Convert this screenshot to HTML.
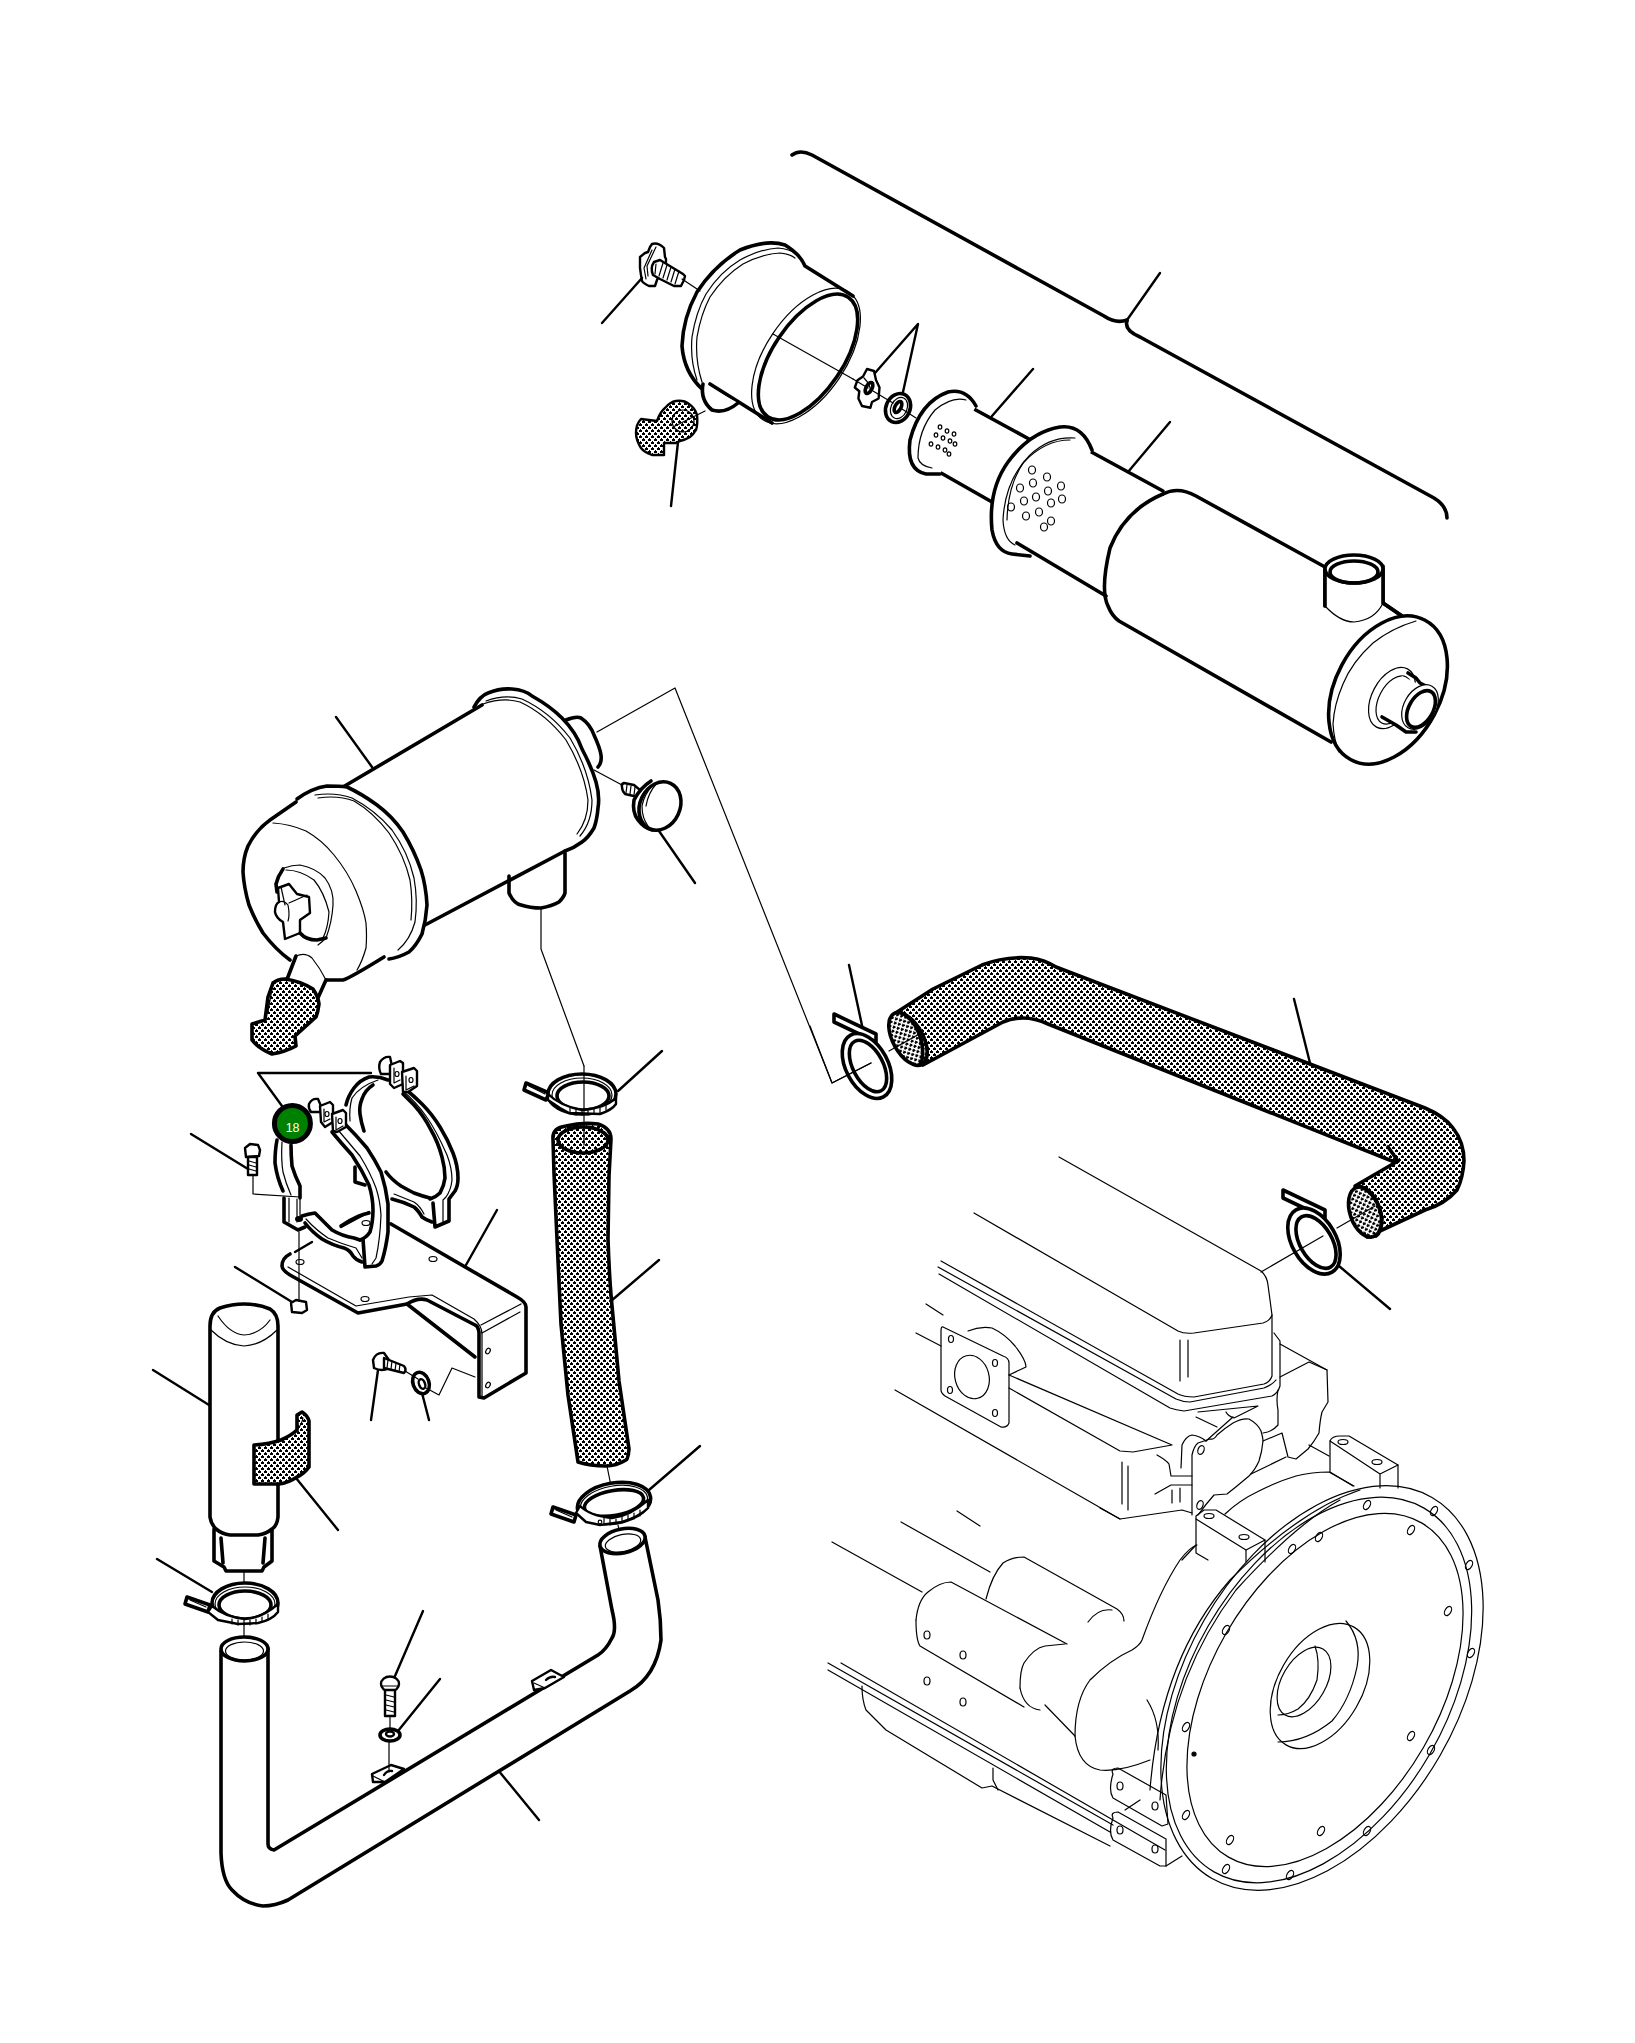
<!DOCTYPE html>
<html><head><meta charset="utf-8"><style>
html,body{margin:0;padding:0;background:#fff;width:1635px;height:2043px;overflow:hidden}
svg{display:block}
.k{stroke:#000;stroke-width:3.6;fill:none;stroke-linecap:round;stroke-linejoin:round}
.m{stroke:#000;stroke-width:2.4;fill:none;stroke-linecap:round;stroke-linejoin:round}
.t{stroke:#000;stroke-width:1.2;fill:none;stroke-linecap:round;stroke-linejoin:round}
.w{fill:#fff}
.s{fill:url(#dots)}
</style></head><body>
<svg width="1635" height="2043" viewBox="0 0 1635 2043">
<defs>
<pattern id="dots" width="6" height="6" patternUnits="userSpaceOnUse">
<rect width="6" height="6" fill="#fff"/>
<path d="M1 0h1v1h1v2h-3v-2h1z M4 3h1v1h1v2h-3v-2h1z" fill="#000" shape-rendering="crispEdges"/>
</pattern>
</defs>
<!-- ===== TOP MUFFLER ===== -->
<g id="muffler">
<path class="k" d="M792,155 Q800,149 812,155 L1104,316 Q1116,324 1127,320"/>
<path class="m" d="M1127,320 L1160,273"/>
<path class="k" d="M1127,321 Q1124,330 1140,337 L1434,498 Q1447,506 1447,518"/>

<!-- cup -->
<g>
<path class="w" d="M702,389 Q684,372 682,346 Q684,318 697,292 Q716,268 740,250 Q767,240 785,245 Q800,254 805,266 L853,296 Q860,310 859,326 Q856,360 838,393 Q815,418 793,423 L772,423 L710,384 Z"/>
<path class="k" d="M702,389 Q684,372 682,346 Q683,318 697,292 Q714,266 740,250 Q767,239 785,245 Q800,254 805,266 L853,296"/>
<path class="t" d="M697,380 Q690,360 692,337 Q696,312 706,294 Q720,272 740,260 Q760,249 778,248 Q790,249 796,254"/>
<path class="t" d="M702,382 Q695,360 697,337 Q701,314 710,297 Q724,276 743,264 Q762,254 780,253 Q790,254 795,258"/>
<path class="k" d="M772,423 L710,384"/>
<path class="k w" d="M703,384 Q700,400 712,410 Q725,414 738,403"/>
<ellipse class="t" cx="806" cy="356" rx="40" ry="77" transform="rotate(34 806 356)"/>
<ellipse class="k" cx="808" cy="357" rx="35" ry="72" transform="rotate(34 808 357)"/>
<path class="t" d="M773,334 L853,379"/>
</g>
<!-- wing screw top-left -->
<g>
<path class="m w" d="M652,244 Q658,242 664,248 L665,257 L666,259 L666,262 L657,280 L655,286 L649,286 Q643,283 642,281 L641,275 L640,268 L640,257 L645,253 L648,252 L650,247 Z"/>
<path class="t" d="M656,247 L647,266 L648,276 M652,250 L644,268 L646,279"/>
<path class="m w" d="M654,262 L660,260 L683,274 L685,276 L684,280 L681,286 L674,286 L660,279 L653,275 Q650,268 654,262 Z"/>
<path class="t" d="M663,263 L659,276 M667,265 L663,278 M671,267 L667,280 M675,269 L671,282 M679,271 L675,284 M656,264 L655,274"/>
<path class="t" d="M682,279 L700,291"/>
<path class="m" d="M602,323 L642,278"/>
</g>
<!-- drain valve stippled -->
<g>
<path class="m s" d="M641,419 L657,421 Q660,412 665,408 Q670,402 676,401 Q684,400 689,404 Q695,408 697,415 Q698,424 696,430 Q693,435 690,437 Q685,440 680,441 L676,443 L664,443 L664,455 L652,455 Q644,452 641,448 Q636,440 636,433 Q636,424 641,419 Z"/>
<circle class="t" cx="683" cy="421" r="11"/>
<path class="t" d="M673,427 L705,411"/>
<path class="m" d="M678,442 L671,506"/>
</g>
<!-- wing nut + washer -->
<g>
<path class="m w" d="M867,369 L874,371 L876,380 L879.5,387.5 L878.6,398.5 L872,402 L870.4,407.7 L862,406 L858.4,398.5 L859.3,391.2 L854.8,387.5 L857.5,380.2 L863,376.5 Z"/>
<path class="t" d="M864,378 Q870,384 871,392"/>
<ellipse class="k" cx="869" cy="388" rx="3" ry="6" transform="rotate(28 869 388)"/>
<ellipse class="k w" cx="898" cy="408" rx="12" ry="15" transform="rotate(25 898 408)"/>
<ellipse class="t" cx="899" cy="408" rx="8" ry="11" transform="rotate(25 899 408)"/>
<ellipse class="k" cx="898" cy="407" rx="3" ry="6" transform="rotate(28 898 407)"/>
<path class="t" d="M853,379 L868,388 M873,391 L893,403 M902,409 L916,418"/>
<path class="m" d="M875,373 L918,324 L903,392"/>
</g>
<!-- front small tube -->
<g>
<path class="w" d="M956,391 L1029,439 L992,502 L926,474 Z"/>
<path class="k" d="M963,403 L1029,439"/>
<path class="k" d="M927,465 L992,502"/>
<path class="k w" d="M976,406 Q966,388 948,392 Q920,402 910,440 Q906,470 926,474 L940,474"/>
<path class="t" d="M966,400 Q952,396 935,410 Q918,430 918,458 Q920,466 932,468"/>
<g class="t">
<ellipse cx="940" cy="427" rx="1.8" ry="2.2"/><ellipse cx="947" cy="431" rx="1.8" ry="2.2"/><ellipse cx="954" cy="434" rx="1.8" ry="2.2"/>
<ellipse cx="936" cy="435" rx="1.8" ry="2.2"/><ellipse cx="943" cy="438" rx="1.8" ry="2.2"/><ellipse cx="950" cy="441" rx="1.8" ry="2.2"/><ellipse cx="955" cy="444" rx="1.8" ry="2.2"/>
<ellipse cx="931" cy="444" rx="1.8" ry="2.2"/><ellipse cx="938" cy="447" rx="1.8" ry="2.2"/><ellipse cx="945" cy="450" rx="1.8" ry="2.2"/><ellipse cx="949" cy="454" rx="1.8" ry="2.2"/>
</g>
<path class="m" d="M992,416 L1033,369"/>
</g>
<!-- big flange segment -->
<g>
<path class="w" d="M1064,427 L1163,491 L1081,580 L1007,553 Z"/>
<path class="k" d="M1073,442 L1163,491"/>

<path class="k w" d="M1092,450 Q1082,424 1060,427 Q1030,432 1008,462 Q988,490 992,530 Q996,552 1012,554 L1030,556"/>
<path class="t" d="M1075,438 Q1050,436 1030,455 Q1005,480 1003,520 Q1004,540 1015,545"/>
<path class="t" d="M1070,440 Q1045,440 1024,462 Q1008,484 1007,520"/>
<g class="t">
<ellipse cx="1032" cy="470" rx="3.5" ry="4"/><ellipse cx="1047" cy="477" rx="3.5" ry="4"/>
<ellipse cx="1020" cy="488" rx="3.5" ry="4"/><ellipse cx="1033" cy="483" rx="3.5" ry="4"/><ellipse cx="1048" cy="491" rx="3.5" ry="4"/><ellipse cx="1061" cy="486" rx="3.5" ry="4"/>
<ellipse cx="1024" cy="501" rx="3.5" ry="4"/><ellipse cx="1036" cy="497" rx="3.5" ry="4"/><ellipse cx="1051" cy="503" rx="3.5" ry="4"/><ellipse cx="1062" cy="499" rx="3.5" ry="4"/>
<ellipse cx="1011" cy="507" rx="3.5" ry="4"/><ellipse cx="1039" cy="512" rx="3.5" ry="4"/><ellipse cx="1026" cy="516" rx="3.5" ry="4"/><ellipse cx="1051" cy="521" rx="3.5" ry="4"/><ellipse cx="1044" cy="527" rx="3.5" ry="4"/>
</g>
<path class="m" d="M1128,472 L1170,422"/>
</g>
<!-- big body -->
<g>
<path class="w" d="M1163,494 Q1178,486 1196,496 L1402,616 L1400,760 L1331,742 L1119,621 Q1100,600 1110,548 Q1125,510 1163,494 Z"/>
<path class="k" d="M1163,494 Q1178,486 1196,496 L1325,567"/>
<path class="k" d="M1017,543 L1106,596"/>
<path class="k" d="M1163,494 Q1125,510 1110,548 Q1100,590 1108,606 Q1112,616 1119,621 L1331,742"/>
<path class="k w" d="M1325,567 L1325,606 M1383,566 L1383,603 L1402,616"/>
<path class="w" d="M1325,570 L1383,570 L1383,603 Q1354,622 1325,606 Z"/>
<path class="k" d="M1325,570 L1325,606 M1383,570 L1383,603 L1402,616"/>
<path class="t" d="M1325,606 Q1340,622 1354,622 Q1375,620 1383,603"/>
<ellipse class="k w" cx="1354" cy="569" rx="29" ry="14"/>
<ellipse class="k" cx="1354" cy="572" rx="24" ry="11"/>
<ellipse class="k w" cx="1388" cy="690" rx="52.5" ry="79" transform="rotate(28 1388 690)"/>
<path class="t" d="M1416,621 Q1392,628 1373,643 Q1352,662 1343,684 Q1334,705 1333,724 Q1334,740 1339,752"/>
<ellipse class="t" cx="1392" cy="698" rx="20" ry="33" transform="rotate(28 1392 698)"/>
<ellipse class="t" cx="1394" cy="700" rx="15" ry="26" transform="rotate(28 1394 700)"/>
<path class="w" d="M1402,676 L1432,691 L1412,733 L1384,718 Z"/>
<path class="k" d="M1408,673 L1416,678 L1420,683 L1432,689 M1382,717 L1396,725 L1406,732 L1416,732"/>
<ellipse class="t w" cx="1420" cy="707" rx="16" ry="24" transform="rotate(30 1420 707)"/>
<ellipse class="k" cx="1421" cy="709" rx="12" ry="20" transform="rotate(30 1421 709)"/>
</g>
</g>


<!-- ===== ENGINE ===== -->
<g id="engine" class="t">
<!-- valve cover -->
<path d="M1059,1157 L1261,1271 Q1267,1276 1268,1285 L1272,1315 L1272,1376 Q1270,1382 1264,1384 L1194,1397 Q1184,1397 1178,1394 L941,1261"/>
<path d="M1272,1315 Q1270,1321 1263,1323 L1194,1333 Q1184,1334 1178,1331 L974,1213"/>
<path d="M1180,1340 L1180,1381 M1188,1340 L1188,1377"/>
<path d="M1274,1333 L1280,1341 L1280,1386 Q1278,1393 1272,1396 L1184,1411 Q1176,1410 1170,1408 L939,1274"/>
<path d="M938,1267 L1176,1399 Q1183,1402 1190,1402 L1264,1388 Q1272,1385 1276,1380"/>
<!-- head -->
<path d="M1280,1344 L1327,1370 L1328,1402 L1322,1412 Q1320,1420 1319,1433 Q1314,1442 1308,1449 L1296,1459 L1288,1457 L1282,1433 L1263,1441"/>
<path d="M1280,1377 L1309,1362 L1327,1370"/>
<path d="M1278,1390 Q1276,1400 1278,1410 L1278,1425 Q1272,1432 1263,1433"/>
<path d="M1251,1474 L1286,1457 M1309,1445 L1329,1456"/>
<path d="M895,1390 L1120,1519"/>
<path d="M1009,1375 L1172,1445 L1133,1452 L1120,1451 L1009,1388"/>
<path d="M1100,1508 L1120,1519 L1182,1510 L1192,1513"/>
<path d="M1122,1462 L1122,1504 M1128,1466 L1128,1510"/>
<path d="M1157,1455 Q1166,1460 1169,1464 L1171,1476 L1192,1476 M1155,1494 L1171,1485 L1192,1485 M1172,1490 L1172,1503 M1180,1488 L1180,1502"/>
<path d="M1196,1417 L1217,1427 M1198,1412 L1258,1406 L1234,1418 Q1228,1416 1226,1412"/>
<!-- thermostat housing -->
<path d="M1192,1515 L1192,1455 Q1194,1446 1198,1443 L1210,1439 Q1214,1440 1217,1435 Q1225,1428 1233,1423 Q1242,1418 1249,1419 Q1258,1424 1261,1431 Q1263,1438 1263,1441 Q1262,1452 1259,1461 Q1255,1470 1249,1476 Q1243,1481 1237,1486 L1227,1494 L1214,1495 Q1206,1504 1198,1515"/>
<path d="M1181,1468 L1182,1445 Q1186,1436 1192,1435 Q1200,1436 1206,1441"/>
<ellipse cx="1201" cy="1450" rx="3" ry="4.5" transform="rotate(20 1201 1450)"/><ellipse cx="1200" cy="1505" rx="3" ry="4.5" transform="rotate(20 1200 1505)"/>
<path d="M1206,1441 L1233,1417"/>
<!-- top-right pad -->
<path d="M1330,1441 Q1332,1436 1340,1436 L1349,1436 L1398,1465 L1398,1488"/>
<path d="M1330,1441 L1330,1472 L1353,1486 M1330,1441 L1380,1474 L1398,1465 M1380,1474 L1380,1488"/>
<ellipse cx="1343" cy="1442" rx="5" ry="2.5"/><ellipse cx="1377" cy="1462" rx="5" ry="2.5"/>
<!-- lower pad -->
<path d="M1196,1516 L1204,1510 L1216,1510 L1265,1540 L1246,1550 L1196,1519 Z"/>
<path d="M1246,1550 L1246,1562 M1265,1540 L1265,1562 M1196,1519 L1196,1553 L1208,1560"/>
<ellipse cx="1209" cy="1516" rx="5" ry="2.5"/><ellipse cx="1244" cy="1537" rx="5" ry="2.5"/>
<path d="M1225,1514 Q1240,1500 1257,1492 Q1276,1482 1296,1476 Q1312,1472 1329,1472 L1354,1486"/>
<path d="M1182,1560 L1196,1545"/>
<!-- exhaust flange -->
<path d="M943,1327 L1003,1356 Q1009,1358 1009,1363 L1009,1423 Q1007,1428 1001,1427 L945,1396 Q941,1393 941,1390 L941,1331 Q941,1326 943,1327 Z"/>
<path d="M968,1331 Q980,1326 992,1328 Q1005,1334 1015,1346 Q1026,1360 1026,1367 L1009,1375"/>
<ellipse cx="972" cy="1377" rx="17" ry="22" transform="rotate(-15 972 1377)"/>
<ellipse cx="951" cy="1339" rx="2.5" ry="3.5"/><ellipse cx="995" cy="1363" rx="2.5" ry="3.5"/>
<ellipse cx="950" cy="1390" rx="2.5" ry="3.5"/><ellipse cx="995" cy="1413" rx="2.5" ry="3.5"/>
<path d="M926,1304 L943,1315 M916,1333 L941,1346"/>
<!-- flywheel housing -->
<ellipse cx="1322" cy="1688" rx="136" ry="220" transform="rotate(30 1322 1688)"/>
<ellipse cx="1319" cy="1690" rx="128" ry="210" transform="rotate(30 1319 1690)"/>
<ellipse cx="1325" cy="1690" rx="114" ry="193" transform="rotate(30 1325 1690)"/>
<path d="M1150,1790 Q1160,1660 1230,1580 Q1300,1510 1360,1490"/>
<path d="M1160,1800 Q1168,1680 1236,1590 Q1296,1524 1340,1500"/>
<ellipse cx="1320" cy="1686" rx="42" ry="68" transform="rotate(30 1320 1686)"/>
<path d="M1346,1621 Q1362,1640 1357,1667 Q1350,1700 1332,1721 Q1306,1742 1278,1742"/>
<ellipse cx="1304" cy="1682" rx="22" ry="38" transform="rotate(30 1304 1682)"/>
<path d="M1315,1646 Q1320,1660 1317,1680 Q1310,1700 1298,1709 Q1288,1715 1278,1715"/>
<g>
<ellipse cx="1367" cy="1505" rx="3" ry="5" transform="rotate(30 1367 1505)"/>
<ellipse cx="1434" cy="1511" rx="3" ry="5" transform="rotate(30 1434 1511)"/>
<ellipse cx="1469" cy="1565" rx="3" ry="5" transform="rotate(30 1469 1565)"/>
<ellipse cx="1471" cy="1653" rx="3" ry="5" transform="rotate(30 1471 1653)"/>
<ellipse cx="1431" cy="1750" rx="3" ry="5" transform="rotate(30 1431 1750)"/>
<ellipse cx="1367" cy="1831" rx="3" ry="5" transform="rotate(30 1367 1831)"/>
<ellipse cx="1290" cy="1875" rx="3" ry="5" transform="rotate(30 1290 1875)"/>
<ellipse cx="1226" cy="1869" rx="3" ry="5" transform="rotate(30 1226 1869)"/>
<ellipse cx="1186" cy="1815" rx="3" ry="5" transform="rotate(30 1186 1815)"/>
<ellipse cx="1186" cy="1727" rx="3" ry="5" transform="rotate(30 1186 1727)"/>
<ellipse cx="1226" cy="1630" rx="3" ry="5" transform="rotate(30 1226 1630)"/>
<ellipse cx="1292" cy="1549" rx="3" ry="5" transform="rotate(30 1292 1549)"/>
<ellipse cx="1411" cy="1530" rx="3" ry="5" transform="rotate(30 1411 1530)"/>
<ellipse cx="1448" cy="1611" rx="3" ry="5" transform="rotate(30 1448 1611)"/>
<ellipse cx="1411" cy="1736" rx="3" ry="5" transform="rotate(30 1411 1736)"/>
<ellipse cx="1321" cy="1831" rx="3" ry="5" transform="rotate(30 1321 1831)"/>
<ellipse cx="1230" cy="1840" rx="3" ry="5" transform="rotate(30 1230 1840)"/>
<ellipse cx="1319" cy="1537" rx="3" ry="5" transform="rotate(30 1319 1537)"/>
</g>
<circle cx="1194" cy="1754" r="2" fill="#000"/>
<!-- left lines -->
<path d="M832,1542 L922,1592 M901,1522 L990,1572 M957,1511 L980,1526"/>
<!-- starter cylinders -->
<path d="M916,1620 Q918,1600 928,1592 Q940,1582 951,1582 L1067,1644"/>
<path d="M916,1620 Q916,1640 920,1646 L1024,1707"/>
<path d="M986,1599 Q992,1575 1003,1563 Q1012,1557 1024,1557 L1117,1609 Q1124,1614 1124,1621"/>
<path d="M1020,1688 Q1020,1670 1024,1663 Q1034,1648 1045,1646 L1065,1644"/>
<path d="M1020,1688 Q1024,1708 1040,1710"/>
<path d="M1088,1622 Q1098,1608 1112,1610"/>
<path d="M1045,1705 L1075,1736"/>
<ellipse cx="927" cy="1635" rx="3" ry="4"/><ellipse cx="963" cy="1655" rx="3" ry="4"/>
<ellipse cx="927" cy="1681" rx="3" ry="4"/><ellipse cx="963" cy="1702" rx="3" ry="4"/>
<!-- starter nose / bell -->
<path d="M1075,1736 Q1075,1700 1090,1680 Q1110,1660 1132,1650 Q1140,1645 1142,1640 Q1160,1590 1180,1560 Q1190,1547 1197,1545"/>
<path d="M1075,1736 Q1078,1766 1100,1770 Q1120,1772 1150,1760"/>
<path d="M1147,1700 Q1160,1720 1158,1750"/>
<!-- lower body + rails -->
<path d="M862,1686 Q862,1700 866,1710 L886,1730 L982,1788 L992,1786 L1110,1846"/>
<path d="M993,1768 L993,1780 L998,1790"/>
<path d="M828,1663 L1113,1825 M828,1670 L1110,1832 M841,1663 L1165,1850"/>
<!-- lower pads -->
<path d="M1113,1774 Q1110,1768 1118,1768 L1166,1795 L1168,1824 L1162,1826 L1113,1798 Q1108,1790 1113,1774 Z"/>
<ellipse cx="1120" cy="1786" rx="3" ry="4"/><ellipse cx="1155" cy="1806" rx="3" ry="4"/>
<path d="M1113,1818 Q1110,1812 1118,1812 L1166,1839 L1166,1866 L1160,1866 L1113,1840 Q1108,1832 1113,1818 Z"/>
<path d="M1125,1810 L1140,1800 M1166,1866 L1182,1856"/>
<ellipse cx="1120" cy="1830" rx="3" ry="4"/><ellipse cx="1155" cy="1849" rx="3" ry="4"/>
</g>

<!-- ===== BIG RIGHT HOSE ===== -->
<g id="rhose">
<path class="m" d="M849,965 L863,1030"/>
<path class="m" d="M1294,999 L1310,1063"/>
<path class="m" d="M1339,1266 L1390,1309"/>
<path class="k s" d="M894,1014 L933,989 L982,965 Q1005,956 1031,958 Q1045,960 1056,967 L1425,1108 Q1444,1116 1453,1128 Q1464,1142 1464,1161 Q1463,1178 1457,1190 Q1445,1204 1425,1210 L1367,1237 L1355,1186 L1398,1161 L1392,1161 L1048,1024 Q1035,1018 1023,1018 Q1012,1018 1003,1022 L923,1065 Z"/>
<path class="k" d="M1398,1161 L1388,1147"/>
<ellipse class="k s" cx="908" cy="1039" rx="15" ry="29" transform="rotate(-29 908 1039)"/>
<path class="k" d="M902,1013 Q918,1022 922,1044 Q924,1060 920,1064"/>
<ellipse class="k s" cx="1365" cy="1212" rx="15" ry="26" transform="rotate(-19 1365 1212)"/>
<path class="k" d="M1362,1187 Q1378,1196 1382,1218 Q1382,1232 1376,1236"/>
<!-- clamps -->
<path class="k w" d="M834,1014 L876,1034 L876,1042 L834,1022 Z"/>
<ellipse class="k w" cx="867" cy="1066" rx="21" ry="35" transform="rotate(-28 867 1066)"/>
<ellipse class="k w" cx="868" cy="1066" rx="15" ry="28" transform="rotate(-28 868 1066)"/>
<path class="t" d="M810,1026 L832,1083 L871,1063 M889,1051 L921,1033"/>
<path class="k w" d="M1283,1190 L1325,1210 L1325,1218 L1283,1198 Z"/>
<ellipse class="k w" cx="1314" cy="1241" rx="22" ry="36" transform="rotate(-30 1314 1241)"/>
<ellipse class="k w" cx="1316" cy="1242" rx="16" ry="29" transform="rotate(-30 1316 1242)"/>
<path class="t" d="M1261,1272 L1323,1236 M1337,1228 L1375,1206"/>
</g>
<!-- ===== AIR CLEANER ===== -->
<g id="aircleaner">
<path class="t" d="M597,732 L675,688 L832,1083 L871,1063"/>
<path class="t" d="M541,908 L541,949 L584,1066"/>
<path class="m" d="M336,717 L372,767"/>
<path class="m" d="M659,831 L695,883"/>
<!-- body -->
<path class="w" d="M343,787 L482,705 Q510,688 532,696 Q562,718 582,749 Q598,782 598,808 Q596,830 582,842 L565,851 L425,925 Q400,960 343,980 L327,980 Q280,960 258,934 Q240,900 243,870 Q250,840 265,824 L300,800 Z"/>
<path class="k" d="M343,787 L482,705"/>
<!-- back flange -->
<path class="k" d="M474,707 Q480,696 488,693 Q500,688 512,689 Q525,690 532,696 Q550,706 562,718 Q576,732 582,749 Q592,768 596,782 Q600,796 598,808 Q597,820 594,828 Q588,838 582,842 Q574,848 565,851"/>
<path class="t" d="M486,701 Q505,694 522,699 Q550,712 570,738 Q588,768 592,800 Q592,822 580,836"/>
<path class="t" d="M483,704 Q503,697 520,702 Q546,714 566,740 Q584,770 588,800 Q588,820 577,834"/>
<path class="k" d="M566,720 Q576,716 581,718 Q590,724 594,735 Q600,748 601,755 Q602,763 598,767"/>
<!-- outlet tube -->
<path class="w" d="M509,876 L509,893 Q514,904 521,905 Q530,908 541,908 Q552,906 559,902 Q564,897 565,893 L565,853 Z"/>
<path class="k" d="M509,876 L509,893 Q514,904 521,905 Q530,908 541,908 Q552,906 559,902 Q564,897 565,893 L565,853"/>
<path class="k" d="M425,925 L565,851"/>
<!-- front flange -->
<path class="w" d="M343,786 L326,784 L296,802 L270,820 Q255,832 245,855 Q242,872 244,880 Q246,905 263,933 Q275,948 290,960 L326,980 L343,980 L384,957 L397,950 Z"/>

<path class="w" d="M297,799 Q312,788 327,786 Q340,786 347,787 Q362,794 377,805 Q392,816 403,832 Q414,850 421,870 Q426,886 427,905 Q426,920 422,934 Q416,946 409,952 Q398,958 389,959 L384,956 Z"/>
<path class="k" d="M297,799 Q312,788 327,786 Q340,786 347,787 Q362,794 377,805 Q392,816 403,832 Q414,850 421,870 Q426,886 427,905 Q426,920 422,934 Q416,946 409,952 Q398,958 389,959"/>
<path class="t" d="M315,795 Q335,792 352,798 Q375,810 392,830 Q408,852 414,878 Q418,900 415,922 Q410,940 398,950"/>
<path class="t" d="M318,798 Q338,795 354,801 Q373,812 389,833 Q404,855 410,880 Q413,900 411,920"/>
<!-- front cap -->
<path class="k" d="M296,802 L270,820 Q256,830 248,846 Q243,858 243,872 Q244,888 249,905 Q255,920 263,933 Q276,950 290,960"/>
<path class="k" d="M326,980 L343,980 Q350,978 384,957"/>
<path class="t" d="M273,823 Q290,824 306,831 Q322,840 334,855 Q348,872 356,891 Q364,910 366,923 Q367,937 366,948 Q362,962 357,970"/>
<path class="t" d="M284,868 Q292,865 300,865 Q316,868 325,878 Q334,890 333,905 Q332,922 326,938 Q322,942 318,945"/>
<path class="t" d="M286,870 Q300,870 314,880 Q324,892 329,912 Q328,928 323,938"/>
<path class="k" d="M283,869 Q278,876 276,884 L277,892"/>
<path class="m w" d="M278,888 L289,884 L297,894 L309,897 L310,913 L300,920 L300,933 L285,939 L283,922 Q276,918 275,912 Q275,904 279,902 Z"/>
<path class="t" d="M279,902 Q284,900 288,905 Q290,915 288,921 M281,887 L285,905 M289,903 L307,895"/>
<path class="k" d="M300,933 Q306,940 317,940 L326,938"/>
<!-- drain tube + valve -->
<path class="w" d="M296,956 L289,981 L318,998 L326,980 Z"/>
<path class="k" d="M296,956 L286,982 M326,980 L317,1000"/>
<path class="t" d="M296,956 Q305,952 312,958 Q320,968 326,980"/>
<path class="k s" d="M273,983 Q278,979 285,979 Q300,981 313,989 Q318,996 319,1004 Q318,1012 316,1017 L295,1036 L296,1046 Q285,1052 272,1054 Q258,1048 252,1040 L252,1024 L265,1020 L268,997 Z"/>
<path class="t" d="M273,983 L268,1012"/>
<!-- knob (right) -->
<path class="m w" d="M622,787 Q621,784 624,783 L634,785 L640,790 L638,797 L625,794 Q622,791 622,787 Z"/>
<path class="t" d="M627,785 L626,793 M631,786 L630,794 M635,787 L634,795"/>
<path class="t" d="M594,770 L622,785"/>
<path class="k w" d="M651,781 Q640,788 634,800 Q632,812 638,820 Q644,828 652,830 L660,830"/>
<ellipse class="k w" cx="660" cy="806" rx="20" ry="25" transform="rotate(25 660 806)"/>
<path class="t" d="M654,784 Q644,794 642,806 Q642,818 648,826 M657,783 Q648,793 646,806"/>
</g>

<!-- ===== BRACKETS ===== -->
<g id="brackets">
<path class="m" d="M258,1073 L371,1073 M258,1073 L282,1106"/>
<path class="m" d="M191,1134 L248,1169"/>
<path class="m" d="M235,1267 L292,1302"/>
<path class="m" d="M466,1265 L497,1210"/>
<!-- base plate -->
<path class="k w" d="M391,1224 L517,1297 Q526,1302 526,1307 L526,1373 L484,1398 L479,1397 L479,1332 Q478,1326 475,1325 L427,1300 Q418,1297 407,1304 L358,1313 L290,1275 Q282,1270 282,1266 Q282,1258 290,1254"/>
<path class="t" d="M288,1267 L356,1306 L409,1297 L432,1295 L474,1319 Q482,1326 482,1334 L482,1396"/>
<path class="k" d="M407,1304 L475,1357"/>
<path class="t" d="M481,1325 L521,1304 M482,1333 L520,1312"/>
<path class="m" d="M295,1252 L312,1242 M341,1227 L369,1212"/>
<ellipse class="t" cx="300" cy="1262" rx="4" ry="2.5"/>
<ellipse class="t" cx="365" cy="1299" rx="4" ry="2.5"/>
<ellipse class="t" cx="433" cy="1259" rx="4" ry="2.5"/>
<ellipse class="t" cx="366" cy="1223" rx="4" ry="2.5"/>
<ellipse class="t" cx="488" cy="1351" rx="2" ry="3" transform="rotate(30 488 1351)"/>
<ellipse class="t" cx="488" cy="1385" rx="2" ry="3" transform="rotate(30 488 1385)"/>
<!-- ring 1 (back) -->
<path class="k" d="M404,1088 Q414,1096 422,1104 Q432,1114 440,1127 Q448,1140 453,1153 Q458,1166 458,1178 Q458,1186 455,1191 L449,1199 L449,1221 L435,1227 L433,1203"/>
<path class="k" d="M403,1094 Q408,1099 414,1105 Q424,1116 431,1130 Q438,1142 442,1157 Q445,1168 445,1178 Q444,1186 440,1193 Q436,1197 430,1199"/>
<path class="t" d="M403,1091 Q416,1102 426,1116 Q436,1130 447,1155 Q452,1168 452,1180 Q451,1190 446,1197 L443,1200 L443,1223"/>
<path class="k" d="M386,1172 Q392,1180 401,1186 Q408,1190 414,1193 Q422,1196 430,1198"/>
<path class="k" d="M392,1199 Q404,1202 414,1207 Q418,1210 422,1217 Q426,1220 432,1222"/>
<path class="t" d="M394,1194 Q404,1198 414,1202 Q420,1206 424,1214"/>
<path class="k" d="M388,1080 Q378,1076 369,1077 Q360,1080 354,1088 Q348,1096 346,1105"/>
<path class="k" d="M373,1085 Q365,1090 362,1099 Q359,1106 360,1114 Q361,1122 364,1131"/>
<path class="t" d="M378,1080 Q360,1086 352,1098 Q349,1108 350,1121"/>
<path class="m w" d="M380,1062 Q384,1056 390,1057 L392,1066 L390,1074 L381,1074 Q378,1068 380,1062 Z"/>
<path class="m w" d="M390,1065 L400,1061 L403,1063 L403,1084 L394,1088 L390,1084 Z"/>
<path class="t" d="M394,1068 L394,1083 L400,1080"/>
<path class="m w" d="M402,1072 L414,1068 L417,1071 L417,1086 L408,1092 L403,1092 Z"/>
<path class="t" d="M406,1076 L406,1090 L414,1086"/>
<ellipse class="t" cx="397" cy="1074" rx="2" ry="2.5"/><ellipse class="t" cx="411" cy="1080" rx="2" ry="2.5"/>
<!-- ring 2 (front) -->
<path class="w" d="M345,1124 Q356,1135 367,1148 Q375,1160 381,1172 Q386,1188 388,1204 L388,1232 Q386,1248 382,1261 L376,1266 L365,1267 L363,1239 L352,1238 L332,1230 L315,1213 L302,1216 L299,1198 L284,1198 L284,1222 Q278,1200 276,1180 L277,1140 L291,1145 L292,1166 L300,1186 L300,1198 L315,1213 L332,1230 L354,1238 L360,1240 Q368,1236 370,1232 L373,1210 L369,1185 L352,1155 L332,1132 Z"/>
<path class="k" d="M345,1124 Q356,1135 367,1148 Q375,1160 381,1172 Q386,1188 388,1204 L388,1232 Q386,1248 382,1261 Q380,1265 376,1266 L365,1267 L363,1239"/>
<path class="k" d="M332,1132 Q342,1144 352,1155 Q362,1170 369,1185 Q373,1198 373,1210 Q373,1222 370,1232 Q366,1238 360,1240"/>
<path class="t" d="M338,1130 Q350,1144 360,1156 Q370,1172 376,1188 Q380,1200 381,1215 Q380,1240 376,1258 L372,1264"/>
<path class="k" d="M277,1140 Q275,1150 275,1163 Q277,1178 283,1191"/>
<path class="k" d="M291,1145 Q291,1155 292,1166 Q295,1176 300,1186 L300,1198"/>
<path class="t" d="M282,1142 Q281,1160 283,1172 Q286,1184 291,1195"/>
<path class="k" d="M284,1198 L284,1222 L298,1230 L305,1227"/>
<path class="t" d="M289,1198 L289,1222 M297,1199 L297,1222"/>
<path class="k" d="M305,1223 Q312,1232 322,1239 Q332,1245 344,1248 Q350,1250 353,1256 Q356,1260 362,1262"/>
<path class="k" d="M302,1216 Q308,1214 315,1213 Q322,1220 332,1230 Q342,1236 354,1238 L360,1240"/>
<path class="t" d="M306,1219 Q316,1230 328,1238 Q342,1244 356,1248 L362,1258"/>
<path class="k" d="M341,1226 Q350,1220 359,1216 Q364,1214 369,1213"/>
<path class="k" d="M355,1167 L355,1182 L365,1185"/>
<path class="m w" d="M309,1104 Q312,1098 318,1099 L321,1106 L320,1112 L311,1112 Q308,1108 309,1104 Z"/>
<path class="m w" d="M320,1106 L330,1102 L333,1105 L333,1122 L325,1127 L321,1122 Z"/>
<path class="t" d="M324,1109 L324,1122 L330,1119"/>
<path class="m w" d="M332,1114 L343,1110 L346,1113 L346,1127 L337,1132 L333,1131 Z"/>
<path class="t" d="M336,1117 L336,1130 L343,1126"/>
<ellipse class="t" cx="327" cy="1114" rx="2" ry="2.5"/><ellipse class="t" cx="340" cy="1121" rx="2" ry="2.5"/>
<ellipse cx="299" cy="1219" rx="4" ry="3" fill="#000"/>
<!-- label 18 -->
<circle cx="292.4" cy="1123.5" r="18" fill="#008000" stroke="#000" stroke-width="5"/>
<text x="292.6" y="1132" font-family="Liberation Sans, sans-serif" font-size="12.5" fill="#fff" text-anchor="middle">18</text>
<!-- bolt left -->
<path class="m w" d="M245,1148 L250,1144 L258,1145 L260,1150 L259,1156 L246,1157 Z"/>
<path class="m w" d="M248,1157 L257,1157 L257,1175 L248,1175 Z"/>
<path class="t" d="M249,1161 L256,1163 M249,1165 L256,1167 M249,1169 L256,1171"/>
<path class="t" d="M253,1176 L253,1194 L300,1197 L300,1216"/>
<!-- nut -->
<path class="m w" d="M291,1303 L296,1300 L306,1302 L307,1310 L302,1313 L292,1312 Z"/>
<path class="t" d="M299,1301 L299,1232"/>
<!-- lower bolt + washer -->
<path class="m w" d="M373,1360 Q376,1352 384,1353 L389,1360 L389,1368 Q382,1372 374,1368 Z"/>
<path class="m w" d="M384,1358 L404,1366 Q407,1370 404,1373 L384,1368 Z"/>
<path class="t" d="M388,1360 L387,1368 M392,1361 L391,1369 M396,1363 L395,1371 M400,1364 L399,1372"/>
<ellipse class="k w" cx="421" cy="1383" rx="8" ry="11" transform="rotate(-20 421 1383)"/>
<ellipse class="m" cx="422" cy="1384" rx="3" ry="5" transform="rotate(-20 422 1384)"/>
<path class="t" d="M405,1371 L418,1379 M426,1388 L439,1395 L452,1368 L475,1377"/>
<path class="m" d="M378,1370 L371,1420 M422,1393 L429,1420"/>
</g>

<!-- ===== VERTICAL HOSE + CLAMPS ===== -->
<g id="vhose">
<path class="m" d="M618,1091 L662,1051"/>
<path class="m" d="M611,1301 L659,1260"/>
<path class="m" d="M649,1490 L700,1446"/>
<!-- top clamp -->
<path class="k w" d="M526,1083 L549,1093 L546,1100 L524,1090 Z"/>
<path class="t" d="M529,1086 L545,1094"/>
<ellipse class="k w" cx="582" cy="1094" rx="34" ry="20"/>
<ellipse class="k" cx="583" cy="1096" rx="26" ry="14"/>
<ellipse class="t" cx="582" cy="1095" rx="30" ry="17"/>
<path class="m w" d="M548,1100 L560,1108 L569,1113 L600,1114 Q612,1110 616,1104 L616,1098 Q605,1108 582,1110 Q560,1106 548,1094 Z"/>
<path class="t" d="M570,1108 L570,1114 M576,1109 L576,1115 M582,1110 L582,1115 M588,1109 L588,1115 M594,1108 L594,1114 M600,1107 L600,1113 M606,1104 L606,1110"/>
<!-- hose -->
<path class="k s" d="M553,1139 Q552,1128 566,1126 Q582,1122 598,1124 Q611,1128 611,1139 L609,1176 L608,1239 Q609,1270 611,1295 L619,1381 L629,1449 Q628,1460 626,1460 Q616,1466 606,1466 Q590,1466 578,1462 L568,1395 L561,1324 L557,1239 L554,1173 Z"/>
<ellipse class="k" cx="583" cy="1140" rx="25" ry="13" fill="none"/>
<path class="t" d="M584,1066 L584,1145"/>
<path class="t" d="M607,1466 L615,1506 M618,1525 L622,1545"/>
<!-- bottom clamp -->
<path class="k w" d="M553,1507 L576,1515 L574,1522 L551,1514 Z"/>
<path class="t" d="M556,1510 L572,1517"/>
<ellipse class="k w" cx="614" cy="1503" rx="37" ry="20" transform="rotate(-10 614 1503)"/>
<ellipse class="k" cx="614" cy="1503" rx="30" ry="12.5" transform="rotate(-10 614 1503)"/>
<ellipse class="t" cx="614" cy="1503" rx="34" ry="17" transform="rotate(-10 614 1503)"/>
<path class="m w" d="M576,1513 L586,1522 L600,1525 L622,1522 Q640,1516 648,1508 L648,1500 Q630,1516 612,1518 Q590,1516 580,1506 Z"/>
<path class="t" d="M604,1518 L604,1524 M610,1519 L610,1525 M616,1519 L616,1524 M622,1517 L622,1523 M628,1515 L628,1521 M634,1513 L634,1519 M640,1510 L640,1516"/>
<circle cx="600" cy="1522" r="1.8" class="t w"/>
</g>

<!-- ===== PRE-CLEANER ===== -->
<g id="precleaner">
<path class="m" d="M153,1370 L209,1405"/>
<path class="m" d="M296,1478 L338,1530"/>
<path class="m" d="M157,1559 L212,1592"/>
<path class="k w" d="M214,1529 L214,1561 L224,1567 L226,1571 L262,1571 L264,1567 L272,1561 L272,1529 Z"/>
<path class="k" d="M221,1538 L223,1563 M265,1538 L263,1563"/>
<path class="k w" d="M210,1517 L210,1326 Q210,1312 220,1308 Q232,1304 244,1304 Q258,1304 270,1309 Q278,1314 278,1326 L278,1517 Q277,1526 272,1529 Q266,1534 258,1535 L230,1535 Q222,1534 216,1529 Q211,1524 210,1517 Z"/>
<path class="t" d="M218,1316 Q230,1334 244,1335 Q260,1334 270,1320"/>
<path class="t" d="M211,1330 Q226,1345 244,1346 Q262,1345 277,1330"/>
<path class="t" d="M244,1572 L244,1598 M244,1612 L244,1660"/>
<!-- strap -->
<path class="k s" d="M254,1445 Q270,1444 281,1440 Q292,1435 297,1430 L297,1415 L302,1412 Q308,1416 309,1421 L309,1467 Q304,1474 297,1477 Q288,1483 279,1484 L254,1484 Z"/>
<path class="t" d="M297,1430 Q302,1424 303,1418"/>
<!-- clamp lower left -->
<path class="k w" d="M187,1597 L210,1605 L208,1612 L185,1604 Z"/>
<path class="t" d="M190,1600 L206,1607"/>
<ellipse class="k w" cx="245" cy="1603" rx="33" ry="20"/>
<ellipse class="k" cx="245" cy="1605" rx="26" ry="14"/>
<ellipse class="t" cx="245" cy="1604" rx="30" ry="17"/>
<path class="m w" d="M208,1612 L218,1620 L238,1624 L258,1623 Q272,1620 278,1612 L278,1604 Q262,1618 245,1619 Q225,1617 212,1606 Z"/>
<path class="t" d="M232,1619 L232,1624 M238,1620 L238,1625 M244,1620 L244,1625 M250,1620 L250,1625 M256,1619 L256,1624 M262,1617 L262,1622 M268,1614 L268,1620"/>
</g>

<!-- ===== BOTTOM PIPE ===== -->
<g id="pipe">
<path class="m" d="M395,1676 L423,1611"/>
<path class="m" d="M398,1731 L440,1679"/>
<path class="m" d="M498,1770 L539,1820"/>
<path class="k w" d="M221,1651 L221,1853 Q222,1880 232,1890 Q245,1904 263,1906 Q275,1906 288,1900 L630,1691 Q656,1676 661,1640 Q661,1620 658,1600 L645,1537 L600,1546 L612,1610 Q617,1630 612,1638 Q606,1650 598,1655 L274,1850 Q268,1849 268,1844 L268,1648 Z"/>
<ellipse class="k w" cx="244.5" cy="1649" rx="23.5" ry="12"/>
<ellipse class="t" cx="244.5" cy="1651" rx="19" ry="9"/>
<ellipse class="k w" cx="622.5" cy="1541" rx="23" ry="12" transform="rotate(-12 622.5 1541)"/>
<ellipse class="t" cx="623" cy="1543" rx="18" ry="8.5" transform="rotate(-12 623 1543)"/>
<!-- small saddle tabs on pipe -->
<path class="m w" d="M532,1681 L551,1670 L564,1677 L545,1688 L534,1690 Z"/>
<path class="t" d="M534,1683 L545,1688"/>
<path class="m" d="M546,1680 Q550,1676 555,1677"/>
<path class="m w" d="M372,1774 L391,1765 L404,1769 L385,1782 L373,1782 Z"/>
<path class="t" d="M373,1776 L385,1782"/>
<path class="m" d="M384,1775 Q387,1770 392,1771"/>
<!-- bolt + washer -->
<ellipse class="m w" cx="390" cy="1684" rx="9" ry="7.5"/>
<path class="t" d="M382,1686 L398,1686"/>
<path class="m w" d="M385,1690 L395,1690 L395,1716 L385,1716 Z"/>
<path class="t" d="M386,1695 L394,1697 M386,1700 L394,1702 M386,1705 L394,1707 M386,1710 L394,1712"/>
<ellipse class="k w" cx="390" cy="1735" rx="10" ry="6"/>
<ellipse class="m" cx="390" cy="1734" rx="4" ry="2.5"/>
<path class="t" d="M390,1717 L390,1728 M389,1741 L389,1772"/>
</g>
</svg>
</body></html>
